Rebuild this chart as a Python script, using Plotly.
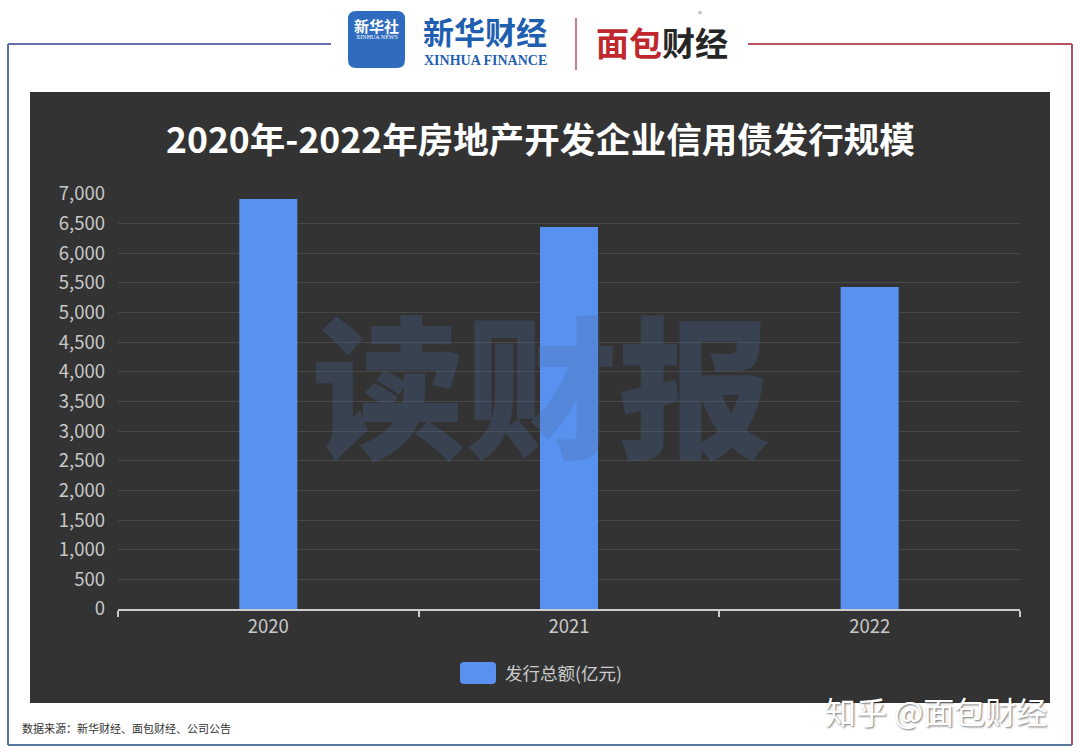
import plotly.graph_objects as go

# ---- data ----
years = ["2020", "2021", "2022"]
issuance = [6915, 6443, 5431]
series_name = "发行总额(亿元)"
title_text = "2020年-2022年房地产开发企业信用债发行规模"
y_tickvals = list(range(0, 7001, 500))
y_ticktext = [f"{v:,}" for v in y_tickvals]
source_text = "数据来源：新华财经、面包财经、公司公告"

FONT = "Noto Sans CJK SC, Noto Sans, sans-serif"

# plot area in pixels
L, R, T, B = 118, 60, 194, 145
W, H = 1080 - L - R, 754 - T - B


def px(x):
    return (x - L) / W


def py(y):
    return (754 - B - y) / H


def rounded(x0, y0, x1, y1, r):
    rx, ry = r / W, r / H
    X0, X1 = px(x0), px(x1)
    Yt, Yb = py(y0), py(y1)
    return (f"M {X0+rx},{Yt} L {X1-rx},{Yt} Q {X1},{Yt} {X1},{Yt-ry} "
            f"L {X1},{Yb+ry} Q {X1},{Yb} {X1-rx},{Yb} L {X0+rx},{Yb} "
            f"Q {X0},{Yb} {X0},{Yb+ry} L {X0},{Yt-ry} Q {X0},{Yt} {X0+rx},{Yt} Z")


bar_color = "#5891f0"

fig = go.Figure()
fig.add_trace(go.Bar(
    x=years, y=issuance, name=series_name, width=0.193,
    marker=dict(color=bar_color, line=dict(width=0)),
    showlegend=False, hoverinfo="x+y",
))

shapes = []
# dark panel
shapes.append(dict(type="rect", xref="paper", yref="paper", layer="below",
                   x0=px(30), x1=px(1050), y0=py(703), y1=py(92),
                   fillcolor="#333333", line=dict(width=0)))
# frame lines
blue_line = "#55779f"
red_line = "#b9525f"
shapes += [
    dict(type="line", xref="paper", yref="paper", x0=px(8), x1=px(331), y0=py(44), y1=py(44),
         line=dict(color="#6670a8", width=2)),
    dict(type="line", xref="paper", yref="paper", x0=px(8), x1=px(8), y0=py(44), y1=py(745),
         line=dict(color=blue_line, width=2)),
    dict(type="line", xref="paper", yref="paper", x0=px(8), x1=px(1072), y0=py(745), y1=py(745),
         line=dict(color=blue_line, width=2)),
    dict(type="line", xref="paper", yref="paper", x0=px(748), x1=px(1072), y0=py(44), y1=py(44),
         line=dict(color=red_line, width=2)),
    dict(type="line", xref="paper", yref="paper", x0=px(1072), x1=px(1072), y0=py(44), y1=py(745),
         line=dict(color=red_line, width=2)),
    # divider in header
    dict(type="line", xref="paper", yref="paper", x0=px(576), x1=px(576), y0=py(18), y1=py(70),
         line=dict(color="#c0505a", width=1.5)),
]
# xinhua logo box
shapes.append(dict(type="path", xref="paper", yref="paper", path=rounded(348, 11, 405, 68, 8),
                   fillcolor="#2f6cbf", line=dict(width=0)))
# custom legend symbol
shapes.append(dict(type="path", xref="paper", yref="paper", path=rounded(460, 662, 496, 684, 4),
                   fillcolor=bar_color, line=dict(width=0)))

annotations = [
    # title
    dict(text=f"<b>{title_text}</b>", xref="paper", yref="paper", x=px(540), y=py(137),
         xanchor="center", yanchor="middle", showarrow=False,
         font=dict(family=FONT, size=35.5, color="#ffffff")),
    # watermark (semi-transparent, above bars)
    dict(text="读财报", xref="paper", yref="paper", x=px(541), y=py(380),
         xanchor="center", yanchor="middle", showarrow=False,
         font=dict(family=FONT, size=153, weight=900,
                   color="rgba(74,108,161,0.28)")),
    # legend text
    dict(text=series_name, xref="paper", yref="paper", x=px(503), y=py(672),
         xanchor="left", yanchor="middle", showarrow=False,
         font=dict(family=FONT, size=17.5, color="#cccccc")),
    # source
    dict(text=source_text, xref="paper", yref="paper", x=px(20), y=py(728),
         xanchor="left", yanchor="middle", showarrow=False,
         font=dict(family=FONT, size=11, color="#333333")),
    # zhihu watermark
    dict(text="知乎 @面包财经", xref="paper", yref="paper", x=px(936), y=py(710),
         xanchor="center", yanchor="middle", showarrow=False,
         font=dict(family=FONT, size=31, color="#ffffff",
                   shadow="1px 1px 2px rgba(0,0,0,0.55)")),
    # header: xinhua logo text
    dict(text="<b>新华社</b>", xref="paper", yref="paper", x=px(376.5), y=py(25),
         xanchor="center", yanchor="middle", showarrow=False,
         font=dict(family=FONT, size=15, color="#ffffff")),
    dict(text="XINHUA NEWS", xref="paper", yref="paper", x=px(376.5), y=py(37),
         xanchor="center", yanchor="middle", showarrow=False,
         font=dict(family="Liberation Serif", size=6, color="#ffffff")),
    dict(text="<b>新华财经</b>", xref="paper", yref="paper", x=px(485), y=py(30),
         xanchor="center", yanchor="middle", showarrow=False,
         font=dict(family=FONT, size=31, color="#1f5fb0")),
    dict(text="XINHUA FINANCE", xref="paper", yref="paper", x=px(485), y=py(60),
         xanchor="center", yanchor="middle", showarrow=False,
         font=dict(family="Liberation Serif", size=14, color="#1f5fb0", weight="bold")),
    dict(text="<b><span style='color:#c0282d'>面包</span><span style='color:#262626'>财经</span></b>",
         xref="paper", yref="paper", x=px(662), y=py(42),
         xanchor="center", yanchor="middle", showarrow=False,
         font=dict(family=FONT, size=33, color="#c0282d")),
    dict(text="®", xref="paper", yref="paper", x=px(700), y=py(13),
         xanchor="center", yanchor="middle", showarrow=False,
         font=dict(family=FONT, size=8, color="#888888")),
]

fig.update_layout(
    width=1080, height=754,
    margin=dict(l=L, r=R, t=T, b=B, pad=0),
    paper_bgcolor="#ffffff",
    plot_bgcolor="rgba(0,0,0,0)",
    shapes=shapes,
    annotations=annotations,
    showlegend=False,
    font=dict(family=FONT),
    xaxis=dict(
        type="category", range=[-0.5, 2.5],
        showgrid=False, showline=True, linecolor="#cccccc", linewidth=2,
        ticks="outside", tickson="boundaries", ticklen=6, tickcolor="#cccccc", tickwidth=1.5,
        tickfont=dict(family=FONT, size=18.5, color="#c8c8c8"),
        fixedrange=True,
    ),
    yaxis=dict(
        range=[0, 7000], tickvals=y_tickvals, ticktext=y_ticktext,
        showgrid=True, gridcolor="#484848", gridwidth=1,
        zeroline=False, showline=False, ticks="",
        ticklabelstandoff=12,
        tickfont=dict(family=FONT, size=18.5, color="#c8c8c8"),
        fixedrange=True,
    ),
)

fig.write_html("out.html", config={"displayModeBar": False},
               post_script="document.body.style.margin='0';document.body.style.padding='0';")
